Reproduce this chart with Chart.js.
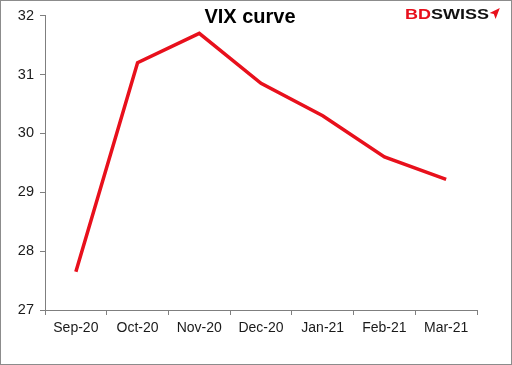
<!DOCTYPE html>
<html lang="en">
<head>
    <meta charset="utf-8">
    <title>VIX curve</title>
    <script src="https://cdn.jsdelivr.net/npm/chart.js"></script>
    <style>
        html, body { margin: 0; padding: 0; background: #fff; }
        #wrap { position: relative; width: 512px; height: 365px; box-sizing: border-box; border: 1px solid #8c8c8c; }
    </style>
</head>
<body>
    <div id="wrap"><canvas id="vixChart" width="510" height="363"></canvas></div>

    <script>
        const months = ['Sep-20', 'Oct-20', 'Nov-20', 'Dec-20', 'Jan-21', 'Feb-21', 'Mar-21'];
        const vixValues = [27.65, 31.2, 31.7, 30.85, 30.3, 29.6, 29.22];
        const yTicks = [27, 28, 29, 30, 31, 32];

        // title and logo drawn on top of the canvas
        const headerPlugin = {
            id: 'header',
            afterDraw(chart) {
                const c = chart.ctx;
                c.save();
                c.fillStyle = '#000';
                c.font = 'bold 20px "Liberation Sans", Arial, sans-serif';
                c.textAlign = 'center';
                c.textBaseline = 'alphabetic';
                c.fillText('VIX curve', 249, 22);

                // logo, slightly stretched sideways like the original
                c.translate(404, 18);
                c.scale(1.2, 1);
                c.textAlign = 'left';
                c.font = 'bold 15px "Liberation Sans", Arial, sans-serif';
                c.fillStyle = '#e8101c';
                c.fillText('BD', 0, 0);
                const w = c.measureText('BD').width;
                c.fillStyle = '#111';
                c.fillText('SWISS', w, 0);
                const w2 = c.measureText('SWISS').width;
                // little red arrow
                const ax = w + w2 + 0.5;
                c.fillStyle = '#e8101c';
                c.beginPath();
                c.moveTo(ax, -6);
                c.lineTo(ax + 8.5, -11);
                c.lineTo(ax + 5, 0);
                c.lineTo(ax + 3.5, -5);
                c.closePath();
                c.fill();
                c.restore();
            }
        };

        new Chart(document.getElementById('vixChart').getContext('2d'), {
            type: 'line',
            data: {
                labels: months,
                datasets: [{
                    label: 'VIX',
                    data: vixValues,
                    borderColor: '#e8101c',
                    borderWidth: 3.5,
                    pointRadius: 0,
                    tension: 0,
                    fill: false
                }]
            },
            options: {
                responsive: false,
                animation: false,
                layout: { padding: { left: 0, right: 34, top: 14, bottom: 24 } },
                plugins: { legend: { display: false }, tooltip: { enabled: false } },
                scales: {
                    x: {
                        offset: true,
                        grid: { offset: true, drawOnChartArea: false, color: '#7f7f7f', tickLength: 5 },
                        border: { color: '#7f7f7f', width: 1 },
                        ticks: { color: '#1a1a1a', font: { family: '"Liberation Sans", Arial', size: 14 }, padding: 5, maxRotation: 0, autoSkip: false },
                        afterFit(scale) { scale.height = 30; }
                    },
                    y: {
                        min: 27,
                        max: 32,
                        afterBuildTicks(scale) { scale.ticks = yTicks.map(v => ({ value: v })); },
                        grid: { drawOnChartArea: false, color: '#7f7f7f', tickLength: 5 },
                        border: { color: '#7f7f7f', width: 1 },
                        ticks: { color: '#1a1a1a', font: { family: '"Liberation Sans", Arial', size: 14.5 }, padding: 6 },
                        afterFit(scale) { scale.width = 44; }
                    }
                }
            },
            plugins: [headerPlugin]
        });
    </script>
</body>
</html>
